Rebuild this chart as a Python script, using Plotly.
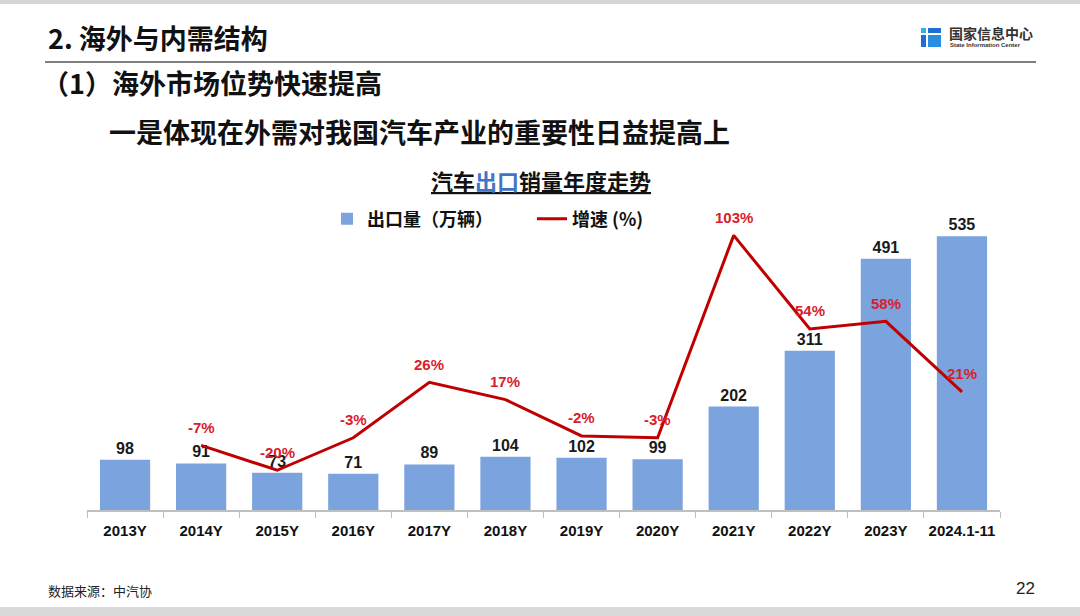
import plotly.graph_objects as go

# 汽车出口销量年度走势
categories = ["2013Y", "2014Y", "2015Y", "2016Y", "2017Y", "2018Y",
              "2019Y", "2020Y", "2021Y", "2022Y", "2023Y", "2024.1-11"]
export_volume = [98, 91, 73, 71, 89, 104, 102, 99, 202, 311, 491, 535]  # 万辆
growth_years = categories[1:]
growth_rate = [-7, -20, -3, 26, 17, -2, -3, 103, 54, 58, 21]  # %
growth_labels = [f"{v}%" for v in growth_rate]

FONT = "Liberation Sans, Arial, Noto Sans CJK SC, sans-serif"
CJK = "Noto Sans CJK SC, Liberation Sans, sans-serif"
BAR_BLUE = "#7BA3DE"
LINE_RED = "#C00000"
LABEL_RED = "#D8202C"

W, H = 1080, 616


def px(x):
    return x / W


def py(y):
    return 1 - y / H


fig = go.Figure()

fig.add_trace(go.Bar(
    x=categories, y=export_volume, name="出口量（万辆）",
    marker=dict(color=BAR_BLUE, line=dict(width=0)),
    text=export_volume, textposition="outside", cliponaxis=False,
    textfont=dict(family=FONT, size=16, color="#1a1a1a", weight="bold"),
))

fig.add_trace(go.Scatter(
    x=growth_years, y=growth_rate, name="增速 (%)", yaxis="y2",
    mode="lines", line=dict(color=LINE_RED, width=3), cliponaxis=False,
))

# growth labels sit just above each point
annotations = []
for cat, val, lab in zip(growth_years, growth_rate, growth_labels):
    annotations.append(dict(
        x=cat, y=val, xref="x", yref="y2", text=f"<b>{lab}</b>",
        showarrow=False, yshift=18,
        font=dict(family=FONT, size=15, color=LABEL_RED),
    ))

# slide texts
annotations += [
    dict(x=px(46), y=py(38), xref="paper", yref="paper", xanchor="left", yanchor="middle",
         text="<b>2. 海外与内需结构</b>", showarrow=False,
         font=dict(family=CJK, size=27, color="#111")),
    dict(x=px(40), y=py(83), xref="paper", yref="paper", xanchor="left", yanchor="middle",
         text="<b>（1）海外市场位势快速提高</b>", showarrow=False,
         font=dict(family=CJK, size=27, color="#111")),
    dict(x=px(107), y=py(131), xref="paper", yref="paper", xanchor="left", yanchor="middle",
         text="<b>一是体现在外需对我国汽车产业的重要性日益提高上</b>", showarrow=False,
         font=dict(family=CJK, size=27, color="#111")),
    dict(x=px(541), y=py(180), xref="paper", yref="paper", xanchor="center", yanchor="middle",
         text="<b><u>汽车<span style='color:#3F74C8'>出口</span>销量年度走势</u></b>",
         showarrow=False, font=dict(family=CJK, size=22, color="#111")),
    dict(x=px(947), y=py(33), xref="paper", yref="paper", xanchor="left", yanchor="middle",
         text="<b>国家信息中心</b>", showarrow=False,
         font=dict(family=CJK, size=14, color="#333")),
    dict(x=px(948), y=py(45), xref="paper", yref="paper", xanchor="left", yanchor="middle",
         text="<b>State Information Center</b>", showarrow=False,
         font=dict(family=FONT, size=6, color="#333")),
    dict(x=px(46), y=py(590), xref="paper", yref="paper", xanchor="left", yanchor="middle",
         text="数据来源：中汽协", showarrow=False,
         font=dict(family=CJK, size=13, color="#222")),
    dict(x=px(1037), y=py(588), xref="paper", yref="paper", xanchor="right", yanchor="middle",
         text="22", showarrow=False,
         font=dict(family=FONT, size=17, color="#222")),
]

shapes = [
    # top and bottom grey strips of the slide capture
    dict(type="rect", xref="paper", yref="paper", x0=0, x1=1, y0=py(4), y1=1,
         fillcolor="#D4D4D4", line=dict(width=0), layer="below"),
    dict(type="rect", xref="paper", yref="paper", x0=0, x1=1, y0=0, y1=py(607),
         fillcolor="#DADADA", line=dict(width=0), layer="below"),
    # rule under the heading
    dict(type="line", xref="paper", yref="paper", x0=px(45), x1=px(1036), y0=py(62), y1=py(62),
         line=dict(color="#7F7F7F", width=2)),
    # logo glyph
    dict(type="rect", xref="paper", yref="paper", x0=px(921), x1=px(926), y0=py(33), y1=py(28),
         fillcolor="#2EB3E8", line=dict(width=0)),
    dict(type="rect", xref="paper", yref="paper", x0=px(928), x1=px(941), y0=py(33), y1=py(28),
         fillcolor="#1F6FD1", line=dict(width=0)),
    dict(type="rect", xref="paper", yref="paper", x0=px(921), x1=px(926), y0=py(47), y1=py(35),
         fillcolor="#1F6FD1", line=dict(width=0)),
    dict(type="rect", xref="paper", yref="paper", x0=px(928), x1=px(941), y0=py(47), y1=py(35),
         fillcolor="#2A8EE0", line=dict(width=0)),
]

fig.update_layout(
    width=W, height=H,
    margin=dict(l=0, r=0, t=0, b=0),
    paper_bgcolor="white", plot_bgcolor="white",
    bargap=0.34,
    showlegend=True,
    legend=dict(orientation="h", x=px(327), y=py(219), xanchor="left", yanchor="middle",
                font=dict(family=CJK, size=18, color="#111", weight="bold"),
                entrywidth=160, entrywidthmode="pixels",
                bgcolor="rgba(0,0,0,0)", itemwidth=30),
    xaxis=dict(domain=[px(87), px(1000)], type="category",
               showline=True, linecolor="#BFBFBF", linewidth=1.5,
               ticks="outside", tickson="boundaries", ticklen=6, tickcolor="#BFBFBF",
               ticklabelstandoff=6,
               tickfont=dict(family=FONT, size=15, color="#111", weight="bold"),
               showgrid=False, zeroline=False),
    yaxis=dict(domain=[py(510), py(230)], range=[0, 547], visible=False, showgrid=False),
    yaxis2=dict(overlaying="y", range=[-40.8, 105.8], visible=False, showgrid=False),
    annotations=annotations,
    shapes=shapes,
)

# the page body has a default 8px margin; drop it so the slide sits flush
fig.write_html("out.html", config={"displayModeBar": False},
               post_script="document.body.style.margin='0';")
